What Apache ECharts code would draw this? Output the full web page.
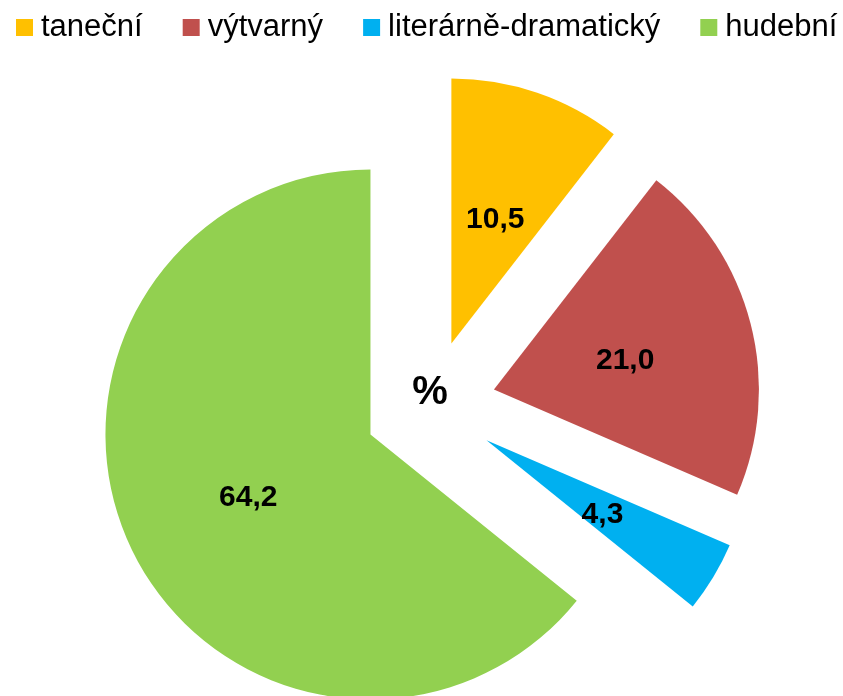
<!DOCTYPE html>
<html>
<head>
<meta charset="utf-8">
<script src="https://cdn.jsdelivr.net/npm/echarts@6/dist/echarts.min.js"></script>
<style>
  html, body { margin: 0; padding: 0; background: #ffffff; }
  #chart { width: 843px; height: 696px; }
</style>
</head>
<body>
<div id="chart"></div>
<script>
// Zastoupení oborů (%)
const categories = ['taneční', 'výtvarný', 'literárně-dramatický', 'hudební'];
const shares = [10.5, 21.0, 4.3, 64.2];
const colors = ['#FFC000', '#C0504D', '#00B0F0', '#92D050'];
const unitLabel = '%';

const chart = echarts.init(document.getElementById('chart'), null, { renderer: 'canvas' });

// every slice is pulled out from the centre
const pieData = categories.map((name, i) => ({
  name: name,
  value: shares[i],
  selected: true,
  itemStyle: { color: colors[i] }
}));

chart.setOption({
  animation: false,
  backgroundColor: '#ffffff',
  legend: {
    left: 11,
    top: 7,
    icon: 'rect',
    itemWidth: 17,
    itemHeight: 17,
    itemGap: 40,
    selectedMode: false,
    textStyle: {
      fontFamily: 'Liberation Sans, Arial, sans-serif',
      fontSize: 31,
      color: '#000000',
      padding: [0, 0, 0, 3]
    },
    data: categories
  },
  graphic: [{
    type: 'text',
    x: 430,
    y: 393,
    style: {
      text: unitLabel,
      align: 'center',
      verticalAlign: 'middle',
      fontFamily: 'Liberation Sans, Arial, sans-serif',
      fontSize: 40,
      fontWeight: 'bold',
      fill: '#000000'
    }
  }],
  series: [{
    type: 'pie',
    center: [430, 406],
    radius: [0, 265],
    startAngle: 90,
    clockwise: true,
    selectedMode: 'multiple',
    selectedOffset: 66,
    label: {
      show: true,
      position: 'inside',
      color: '#000000',
      formatter: p => '{v|' + p.value.toFixed(1).replace('.', ',') + '}',
      rich: {
        v: {
          fontFamily: 'Liberation Sans, Arial, sans-serif',
          fontSize: 30,
          fontWeight: 'bold',
          color: '#000000',
          padding: [9, 0, 0, 0]
        }
      }
    },
    labelLine: { show: false },
    emphasis: { disabled: true },
    itemStyle: { borderWidth: 0 },
    data: pieData
  }]
});
</script>
</body>
</html>
